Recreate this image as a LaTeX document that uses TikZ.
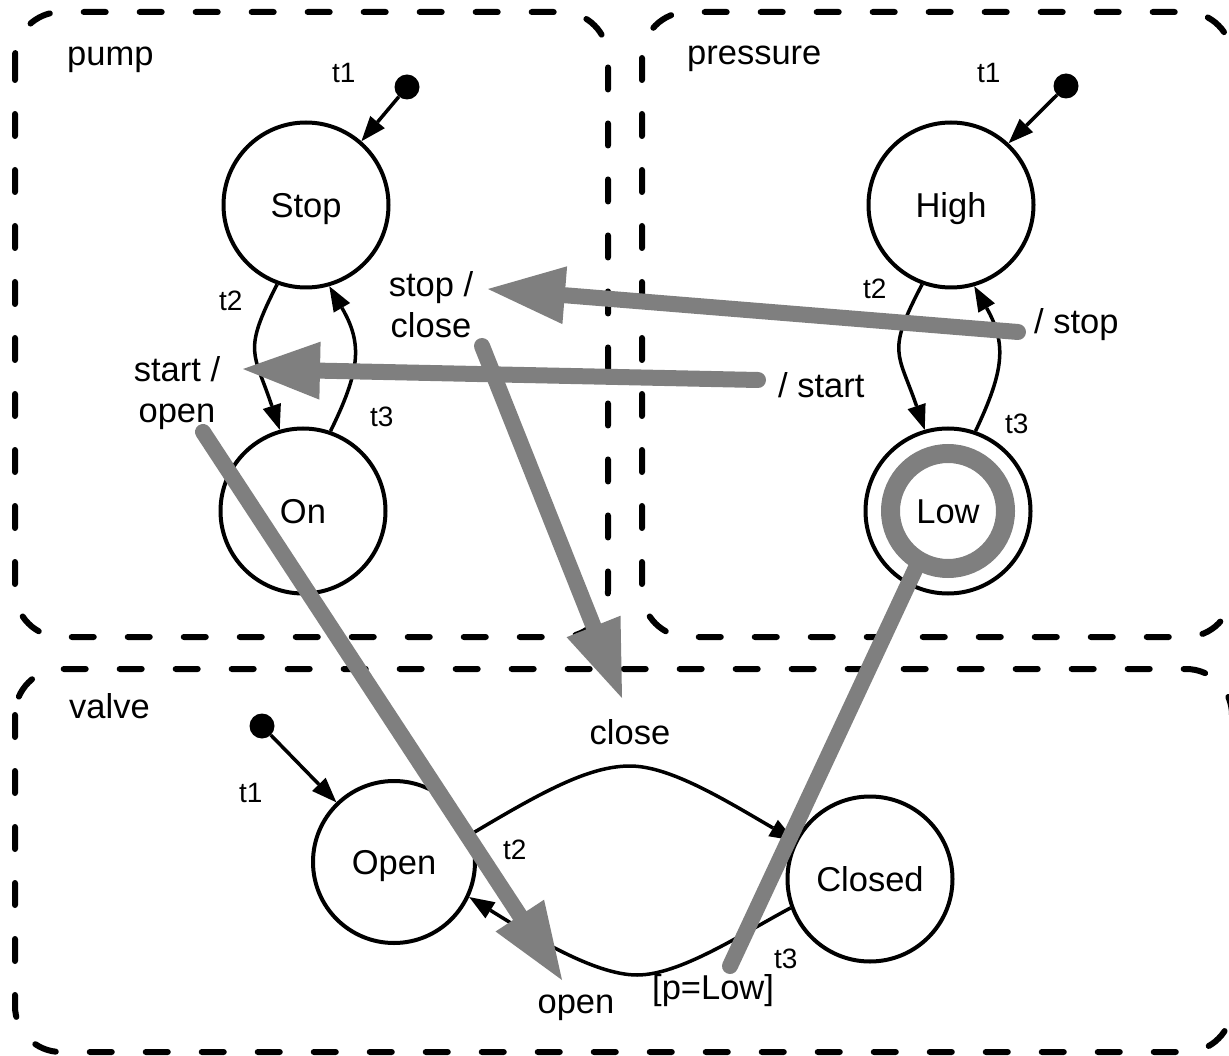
\documentclass[tikz,border=0pt]{standalone}
\usepackage{fontspec}
\setmainfont{Liberation Sans}
\usetikzlibrary{arrows.meta,shapes.geometric,calc}
\definecolor{siggray}{RGB}{127,127,127}

\begin{document}
\begin{tikzpicture}[x=1pt,y=-1pt,
  region/.style={draw, line width=6pt, dash pattern=on 22pt off 34pt, line cap=round, rounded corners=46pt},
  state/.style={circle, draw, line width=4pt, inner sep=0pt, minimum size=#1,
                text height=25pt, text depth=0pt, font=\fontsize{34.5}{41}\selectfont},
  lbl/.style={font=\fontsize{34.5}{41}\selectfont, inner sep=0pt},
  tlbl/.style={font=\fontsize{28}{33}\selectfont, inner sep=0pt, anchor=base west},
  trans/.style={draw, line width=3.5pt, -{Triangle[length=25pt,width=19pt,line width=0pt]}},
  initdot/.style={circle, fill, inner sep=0pt, minimum size=25pt},
  signal/.style={color=siggray, line width=16pt, line cap=round, -{Triangle[length=77pt,width=58pt,line width=0pt]}},
]
\useasboundingbox (0,0) rectangle (1229,1056);

% regions
\draw[region] (15,12) rectangle (608,637);
\draw[region] (642,12) rectangle (1232,637);
\draw[region] (15,669) rectangle (1232,1052);

\node[lbl, anchor=base west] (npump) at (67,66) {pump};
\node[lbl, anchor=base west] (npressure) at (687,65) {pressure};
\node[lbl, anchor=base west] (nvalve) at (69,718) {valve};

% pump states
\node[state=165pt] (Stop) at (306,205) {Stop};
\node[state=165pt] (On) at (303,511) {On};
\node[initdot] (pinit) at (407,87) {};
\draw[trans] (pinit) -- (Stop.49);
\draw[trans] (Stop.250) .. controls (242,353) and (254,352) .. (On.106);
\draw[trans] (On.71) .. controls (360,371) and (363,344) .. (Stop.286);
\node[tlbl] (pt1) at (332,83) {t1};
\node[tlbl] (pt2) at (219,311) {t2};
\node[tlbl] (pt3) at (370,427) {t3};
\node[lbl, align=center] (stopclose) at (431,305) {stop /\\close};
\node[lbl, align=center] (startopen) at (177,393) {start /\\open};

% pressure states
\node[state=165pt] (High) at (951,205) {High};
\node[state=165pt] (Low) at (948,511) {Low};
\node[initdot] (rinit) at (1066,86) {};
\draw[trans] (rinit) -- (High.47);
\draw[trans] (High.250) .. controls (886,353) and (898,352) .. (Low.106);
\draw[trans] (Low.71) .. controls (1004,371) and (1007,344) .. (High.286);
\node[tlbl] (rt1) at (977,83) {t1};
\node[tlbl] (rt2) at (863,299) {t2};
\node[tlbl] (rt3) at (1005,434) {t3};
\node[lbl, anchor=base west] (slstop) at (1034,334) {/ stop};
\node[lbl, anchor=base west] (slstart) at (778,398) {/ start};

% valve states
\node[state=162pt] (Open) at (394,862) {Open};
\node[state=165pt] (Closed) at (870,879) {Closed};
\node[initdot] (vinit) at (262,726) {};
\draw[trans] (vinit) -- (Open.134);
\draw[trans] (Open.20) .. controls (545,790) and (590,766) .. (630,766)
                      .. controls (670,766) and (725,800) .. (Closed.153);
\draw[trans] (Closed.200) .. controls (740,935) and (680,975) .. (637,975)
                         .. controls (594,975) and (530,935) .. (Open.335);
\node[tlbl] (vt1) at (239,802) {t1};
\node[tlbl] (vt2) at (503,859) {t2};
\node[tlbl] (vt3) at (774,968) {t3};
\node[lbl, anchor=base] (vclose) at (630,744) {close};
\node[lbl, anchor=base] (vopen) at (576,1013) {open};
\node[lbl, anchor=base west] (guard) at (652,999) {[p=Low]};

% signal links between the machines
\coordinate (s1a) at (1018,332);
\coordinate (s1b) at (488,289);
\coordinate (s2a) at (758,380);
\coordinate (s2b) at (243,369);
\coordinate (s3a) at (482,346);
\coordinate (s3b) at (622,698);
\coordinate (s4a) at (203,432);
\coordinate (s4b) at (562,980);
\coordinate (s5b) at (730,966);
\draw[signal] (s1a) -- (s1b);
\draw[signal] (s2a) -- (s2b);
\draw[signal] (s3a) -- (s3b);
\draw[signal] (s4a) -- (s4b);
\draw[color=siggray, line width=19pt] (Low.center) circle[radius=57.5];
\draw[color=siggray, line width=16pt, line cap=round] ($(Low.center)!0.69!(Low.240)$) -- (s5b);
\end{tikzpicture}
\end{document}
